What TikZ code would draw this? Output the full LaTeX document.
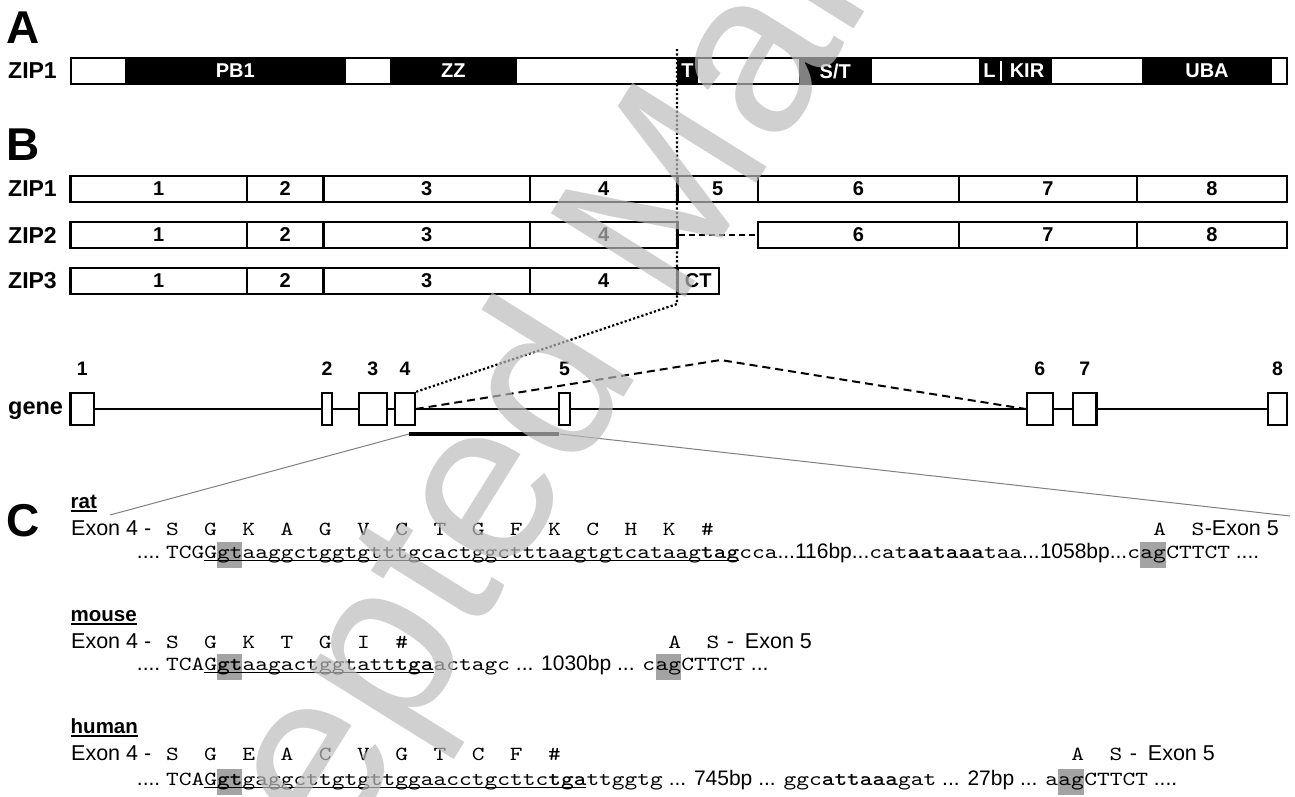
\documentclass[tikz,border=0pt]{standalone}
\usepackage{fontspec}
\setmainfont{Liberation Sans}
\newfontfamily\seqfont[FakeStretch=1.213,BoldFont=lmmonolt10-bold.otf]{lmmono10-regular.otf}
\usetikzlibrary{calc}
\newcommand\fs[1]{\fontsize{#1}{#1}\selectfont}
\newcommand\sq[1]{{\seqfont\fs{20}#1}}
\newcommand\spul[1]{\setbox0\hbox{#1}\copy0\llap{\rule[-3.6pt]{\wd0}{1.5pt}}}
\definecolor{hlgrey}{gray}{0.64}
\definecolor{zgrey}{gray}{0.5}
\definecolor{wmgrey}{RGB}{187,187,187}
\newcommand\dseg[5]{\pgfmathsetmacro\segw{#2-#1}\pgfmathsetmacro\segc{(#1+#2)/2}%
  \node[dom, fill=#3, minimum width=\segw pt] (#5) at (\segc,71) {#4};}
\newcommand\bseg[5]{\pgfmathsetmacro\segw{#2-#1}\pgfmathsetmacro\segc{(#1+#2)/2}%
  \node[bbox, minimum width=\segw pt] (#5) at (\segc,#3) {#4};}
\newcommand\gseg[4]{\pgfmathsetmacro\segw{#2-#1}\pgfmathsetmacro\segc{(#1+#2)/2}%
  \node[gbox, minimum width=\segw pt] (#3) at (\segc,409) {};
  \node[gnum] (#3n) at (\segc,368.5) {#4};}
\tikzset{
 seclab/.style={anchor=base west, inner sep=0, font=\bfseries\fs{46}},
 ziplab/.style={anchor=west, inner sep=0, font=\bfseries\fs{23}},
 dom/.style={inner sep=0, minimum height=26pt, text=white, font=\bfseries\fs{20}},
 bbox/.style={draw, line width=2.4pt, minimum height=26pt, inner sep=0, font=\bfseries\fs{20}},
 gbox/.style={draw, fill=white, line width=2.2pt, minimum height=32pt, inner sep=0},
 gnum/.style={inner sep=0, font=\bfseries\fs{19.5}},
 gline/.style={line width=2.2pt},
 dotline/.style={line width=2.2pt, dash pattern=on 2.2pt off 2.2pt},
 spliceline/.style={line width=2pt, dash pattern=on 8pt off 5pt},
 zdash/.style={line width=1.8pt, dash pattern=on 6pt off 4pt},
 zoomline/.style={line width=1pt, draw=zgrey},
 spec/.style={anchor=base west, inner sep=0, font=\bfseries\fs{20.5}},
 exlab/.style={anchor=base west, inner sep=0, font=\fs{21.5}},
 aa/.style={anchor=base, inner sep=0, font=\seqfont\fs{20}},
 seq/.style={anchor=base west, inner sep=0, font=\fs{21}},
 hl/.style={anchor=base west, inner sep=0, fill=hlgrey, text height=16pt, text depth=10pt, font=\seqfont\fs{20}},
 ulin/.style={line width=1.2pt},
}
\begin{document}
\begin{tikzpicture}[x=1pt,y=-1pt]
\fill[white] (0,0) rectangle (1295,796);
\useasboundingbox (0,0) rectangle (1295,796);

% ---------- A ----------
\node[seclab] (labA) at (6,43) {A};
\node[ziplab] (zipA) at (8,71) {ZIP1};
\dseg{124.5}{346}{black}{PB1}{dPB}
\dseg{390}{516.5}{black}{ZZ}{dZZ}
\dseg{677}{698}{black}{T}{dT}
\dseg{798.5}{872}{black}{S/T}{dST}
\dseg{979}{1052}{black}{}{dKIR}
\dseg{1142}{1272}{black}{UBA}{dUBA}
\node[inner sep=0, text=white, font=\bfseries\fs{20}] (dL) at (989.5,71) {L};
\node[inner sep=0, text=white, font=\bfseries\fs{20}] (dK) at (1027,71) {KIR};
\draw[white, line width=1.3pt] (1001,61) -- (1001,81);
\draw[line width=2pt] (70.5,58) rectangle (1287,84);

% ---------- B ----------
\node[seclab] (labB) at (6,160) {B};
\node[ziplab] (zipB1) at (8,189) {ZIP1};
\node[ziplab] (zipB2) at (8,235) {ZIP2};
\node[ziplab] (zipB3) at (8,281) {ZIP3};
\bseg{70.5}{247}{189}{1}{a1}
\bseg{247}{323.6}{189}{2}{a2}
\bseg{323.6}{530}{189}{3}{a3}
\bseg{530}{677.4}{189}{4}{a4}
\bseg{677.4}{758}{189}{5}{a5}
\bseg{758}{959}{189}{6}{a6}
\bseg{959}{1136.7}{189}{7}{a7}
\bseg{1136.7}{1287}{189}{8}{a8}
\bseg{70.5}{247}{235}{1}{b1}
\bseg{247}{323.6}{235}{2}{b2}
\bseg{323.6}{530}{235}{3}{b3}
\bseg{530}{677.4}{235}{4}{b4}
\bseg{758}{959}{235}{6}{b6}
\bseg{959}{1136.7}{235}{7}{b7}
\bseg{1136.7}{1287}{235}{8}{b8}
\draw[zdash] (b4.east) -- (b6.west);
\bseg{70.5}{247}{281}{1}{c1}
\bseg{247}{323.6}{281}{2}{c2}
\bseg{323.6}{530}{281}{3}{c3}
\bseg{530}{677.4}{281}{4}{c4}
\bseg{677.4}{719}{281}{CT}{cCT}

% ---------- gene ----------
\node[anchor=base west, inner sep=0, font=\bfseries\fs{23.5}] (genelab) at (8,414) {gene};
\draw[gline] (81,409) -- (1278,409);
\gseg{70.5}{94.2}{e1}{1}
\gseg{321.7}{332.3}{e2}{2}
\gseg{359}{386.7}{e3}{3}
\gseg{395.3}{414.7}{e4}{4}
\gseg{559.3}{570}{e5}{5}
\gseg{1026.7}{1052.9}{e6}{6}
\gseg{1073.2}{1096.5}{e7}{7}
\gseg{1268}{1287.3}{e8}{8}
\coordinate (peak) at (720.5,360);
\draw[spliceline] (e4.east) -- (peak) -- (e6.west);
\coordinate (dtop) at (677,49);
\coordinate (dbend) at (677,304);
\draw[dotline] (dtop) -- (dbend) -- (e4.north east);
\node[fill=black, minimum width=150pt, minimum height=4.5pt, inner sep=0] (ibar) at (484.3,434) {};
\coordinate (cl) at (110,515);
\coordinate (cr) at (1290,516);
\draw[zoomline] (ibar.west) -- (cl);
\draw[zoomline] (ibar.east) -- (cr);

% ---------- C ----------
\node[seclab] (labC) at (6,536) {C};

% rat
\node[spec] (rat) at (70.5,508) {\spul{rat}};
\node[exlab] (rex) at (71,535) {Exon 4 -};
\foreach \a [count=\i from 0] in {S,G,K,A,G,V,C,T,G,F,K,C,H,K,\#}
  \node[aa] (ra\i) at ({172.37+38.22*\i},535) {\a};
\fill[hlgrey] (216.96,542) rectangle (242.44,568);
\node[seq, anchor=base east] (rs0) at (160.5,558) {....};
\node[seq] (rs1) at (166,558) {\sq{TCGGgtaaggctggtgtttgcactggctttaagtgtcataag\textbf{tag}cca}...116bp...\sq{cat\textbf{aataaa}taa}...1058bp...\sq{c}};
\node[hl] (rh) at (rs1.base east) {ag};
\node[seq] (rs2) at (rh.base east) {\sq{CTTCT} ....};
\draw[ulin] (204.22,560.5) -- (739.3,560.5);
\node[aa] (rA) at ($(rh.base east)+(-6.37,-23)$) {A};
\node[aa] (rS) at ($(rA.base)+(38.22,0)$) {S};
\node[exlab] (rex5) at (rS.base east) {-Exon 5};

% mouse
\node[spec] (mouse) at (70.5,621) {\spul{mouse}};
\node[exlab] (mex) at (71,648) {Exon 4 -};
\foreach \a [count=\i from 0] in {S,G,K,T,G,I,\#}
  \node[aa] (ma\i) at ({172.37+38.22*\i},648) {\a};
\fill[hlgrey] (216.96,654) rectangle (242.44,680);
\node[seq, anchor=base east] (ms0) at (160.5,670) {....};
\node[seq] (ms1) at (166,670) {\sq{TCAG\textbf{gt}aagactggtatt\textbf{tga}actagc} ... 1030bp ... \sq{c}};
\node[hl] (mh) at (ms1.base east) {ag};
\node[seq] (ms2) at (mh.base east) {\sq{CTTCT} ...};
\draw[ulin] (204.22,672.5) -- (433.5,672.5);
\node[aa] (mA) at ($(mh.base east)+(-6.37,-22)$) {A};
\node[aa] (mS) at ($(mA.base)+(38.22,0)$) {S};
\node[exlab] (mex5) at ($(mS.base east)+(7,0)$) {-\hspace{11pt}Exon 5};

% human
\node[spec] (human) at (70.5,733) {\spul{human}};
\node[exlab] (hex) at (71,760) {Exon 4 -};
\foreach \a [count=\i from 0] in {S,G,E,A,C,V,G,T,C,F,\#}
  \node[aa] (ha\i) at ({172.37+38.22*\i},760) {\a};
\fill[hlgrey] (216.96,769) rectangle (242.44,795);
\node[seq, anchor=base east] (hs0) at (160.5,785) {....};
\node[seq] (hs1) at (166,785) {\sq{TCAG\textbf{gt}gaggcttgtgttggaacctgcttc\textbf{tga}ttggtg} ... 745bp ... \sq{ggc\textbf{attaaa}gat} ... 27bp ... \sq{a}};
\node[hl] (hh) at (hs1.base east) {ag};
\node[seq] (hs2) at (hh.base east) {\sq{CTTCT} ....};
\draw[ulin] (204.22,787.5) -- (586.4,787.5);
\node[aa] (hA) at ($(hh.base east)+(-6.37,-25)$) {A};
\node[aa] (hS) at ($(hA.base)+(38.22,0)$) {S};
\node[exlab] (hex5) at ($(hS.base east)+(7,0)$) {-\hspace{11pt}Exon 5};

% watermark
\node[anchor=base west, rotate=58, inner sep=0, font=\fs{230}, text=wmgrey, opacity=0.69] (wm) at (134,1181) {Accepted Manuscript};
\end{tikzpicture}
\end{document}
